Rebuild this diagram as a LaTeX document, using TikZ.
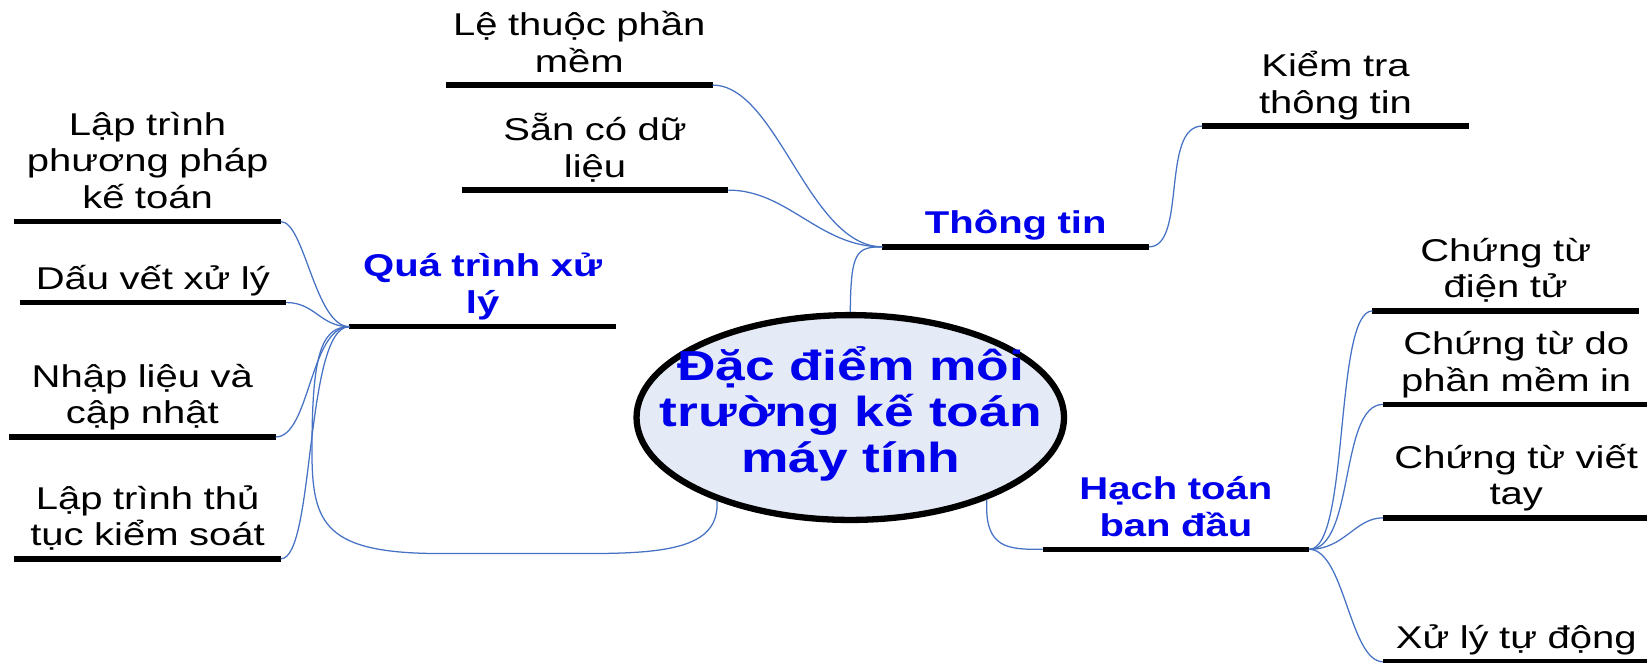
\documentclass[tikz,border=0pt]{standalone}
\usepackage{fontspec}
\setmainfont{Liberation Sans}[FakeStretch=1.27]
\usetikzlibrary{shapes.geometric}
\definecolor{linkblue}{RGB}{70,114,196}
\definecolor{topicblue}{RGB}{0,0,235}
\definecolor{hubfill}{RGB}{228,234,246}
\begin{document}
\begin{tikzpicture}[x=0.5pt,y=-0.5pt,
  bar/.style={line width=2.6pt},
  link/.style={draw=linkblue, line width=0.6pt},
  topic/.style={anchor=south, text width=126.5pt, align=center, inner xsep=0pt, inner ysep=0.75pt,
    font=\fontsize{15pt}{17.5pt}\selectfont, execute at end node=\strut},
  maintopic/.style={topic, font=\fontsize{15pt}{17.5pt}\selectfont\bfseries, text=topicblue},
  hub/.style={ellipse, draw=black, line width=3pt, fill=hubfill, minimum width=203.5pt,
    minimum height=97.5pt, inner sep=0pt},
  hubtext/.style={font=\fontsize{20pt}{22pt}\selectfont\bfseries, text=topicblue, align=center}
]
\useasboundingbox (0,0) rectangle (1568,631);

\node[hub] (C) at (809.5,397.5) {};
\node[hubtext] (Ct) at (810,394) {Đặc điểm môi\\trường kế toán\\máy tính};

\node[maintopic] (info) at (967,235) {Thông tin};
\node[maintopic] (proc) at (459.5,311) {Quá trình xử\\lý};
\node[maintopic] (init) at (1119.5,523) {Hạch toán\\ban đầu};

\node[topic] (dep) at (551.5,81) {Lệ thuộc phần\\mềm};
\node[topic] (avail) at (566.5,181) {Sẵn có dữ\\liệu};
\node[topic] (check) at (1271.5,120) {Kiểm tra\\thông tin};
\node[topic] (method) at (140.5,211) {Lập trình\\phương pháp\\kế toán};
\node[topic] (trace) at (145.5,288) {Dấu vết xử lý};
\node[topic] (entry) at (135.5,416) {Nhập liệu và\\cập nhật};
\node[topic] (ctrl) at (140.5,532) {Lập trình thủ\\tục kiểm soát};
\node[topic] (edoc) at (1433.5,296) {Chứng từ\\điện tử};
\node[topic] (sdoc) at (1443.5,385) {Chứng từ do\\phần mềm in};
\node[topic] (hdoc) at (1443.5,493) {Chứng từ viết\\tay};
\node[topic] (auto) at (1443.5,630) {Xử lý tự động};

\foreach \n in {info,proc,init,dep,avail,check,method,trace,entry,ctrl,edoc,sdoc,hdoc,auto}
  \draw[bar] (\n.south west) -- (\n.south east);

% connectors
\draw[link] (C.north) .. controls (810,240) and (815,235) .. (info.south west);
\draw[link] (dep.south east) .. controls (740,81) and (770,235) .. (info.south west);
\draw[link] (avail.south east) .. controls (750,181) and (780,235) .. (info.south west);
\draw[link] (info.south east) .. controls (1130,235) and (1105,120) .. (check.south west);

\draw[link] (C.212) .. controls (685,520) and (640,527) .. (560,527) -- (420,527)
  .. controls (310,527) and (297,500) .. (297,430)
  .. controls (297,340) and (305,311) .. (proc.south west);
\draw[link] (method.south east) .. controls (290,211) and (300,311) .. (proc.south west);
\draw[link] (trace.south east) .. controls (300,288) and (305,311) .. (proc.south west);
\draw[link] (entry.south east) .. controls (295,416) and (295,311) .. (proc.south west);
\draw[link] (ctrl.south east) .. controls (300,532) and (290,311) .. (proc.south west);

\draw[link] (C.329) .. controls (937,523) and (960,523) .. (init.south west);
\draw[link] (init.south east) .. controls (1285,523) and (1270,296) .. (edoc.south west);
\draw[link] (init.south east) .. controls (1290,523) and (1275,385) .. (sdoc.south west);
\draw[link] (init.south east) .. controls (1280,523) and (1290,493) .. (hdoc.south west);
\draw[link] (init.south east) .. controls (1280,523) and (1285,630) .. (auto.south west);
\end{tikzpicture}
\end{document}
